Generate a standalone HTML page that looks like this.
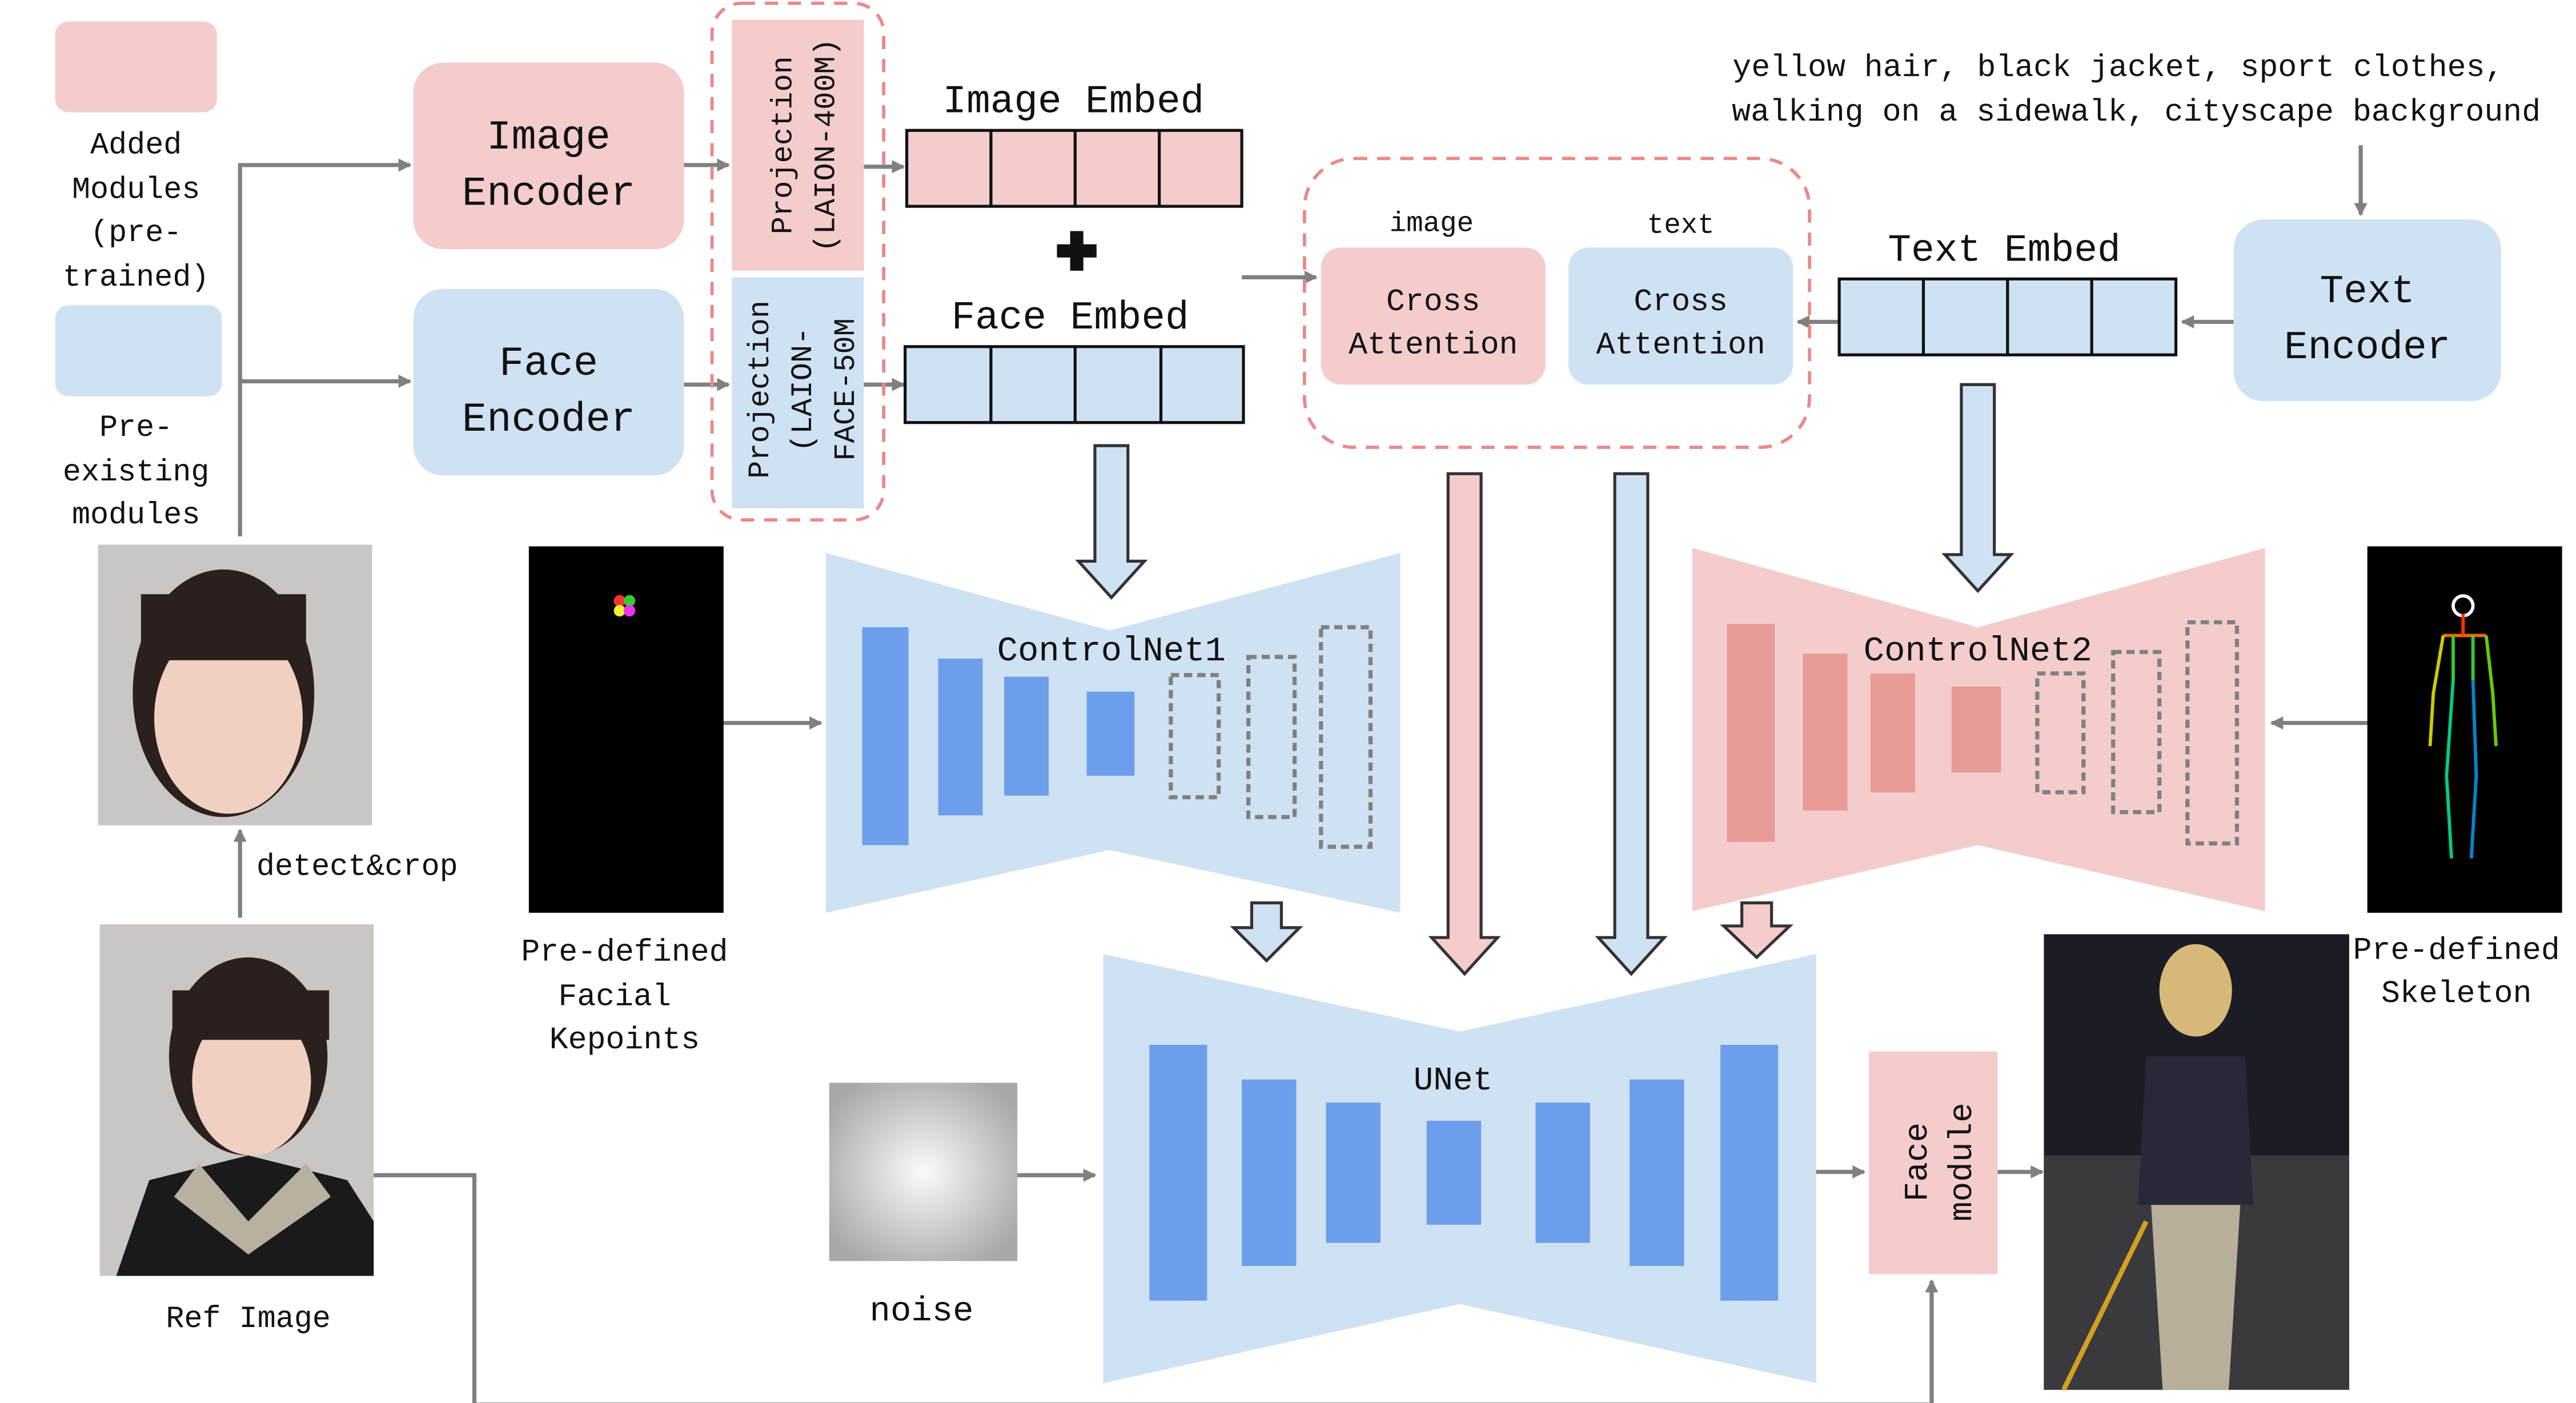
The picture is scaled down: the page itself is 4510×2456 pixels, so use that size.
<!DOCTYPE html>
<html><head><meta charset="utf-8"><style>
html,body{margin:0;padding:0;background:#fff;}
svg{display:block;}
text{font-family:"Liberation Mono","Noto Serif CJK SC",monospace;fill:#111;}
</style></head><body>
<svg width="4510" height="2456" viewBox="0 0 1560 850" xmlns="http://www.w3.org/2000/svg">
<defs>
<marker id="ah" markerWidth="8" markerHeight="8" refX="7" refY="4" orient="auto" markerUnits="userSpaceOnUse"><path d="M0,0 L8,4 L0,8 z" fill="#808080"/></marker>
<radialGradient id="ng" cx="0.5" cy="0.5" r="0.6"><stop offset="0" stop-color="#fafafa"/><stop offset="1" stop-color="#a8a8a8"/></radialGradient>
</defs>
<rect width="1560" height="850" fill="#fff"/>
<g stroke="#808080" stroke-width="2.5" fill="none">
<path d="M145,325 V100 H248" marker-end="url(#ah)"/>
<path d="M145,231 H248" marker-end="url(#ah)"/>
<path d="M414,100 H441" marker-end="url(#ah)"/>
<path d="M414,233 H441" marker-end="url(#ah)"/>
<path d="M523,101 H547" marker-end="url(#ah)"/>
<path d="M523,233 H547" marker-end="url(#ah)"/>
<path d="M752,168 H797" marker-end="url(#ah)"/>
<path d="M1353,195 H1322" marker-end="url(#ah)"/>
<path d="M1114,195 H1089" marker-end="url(#ah)"/>
<path d="M1430,88 V130" marker-end="url(#ah)"/>
<path d="M438,438 H497" marker-end="url(#ah)"/>
<path d="M1434,438 H1376" marker-end="url(#ah)"/>
<path d="M616,712 H663" marker-end="url(#ah)"/>
<path d="M1100,710 H1129" marker-end="url(#ah)"/>
<path d="M1210,710 H1237" marker-end="url(#ah)"/>
<path d="M145,556 V503" marker-end="url(#ah)"/>
<path d="M226,712 H287 V851 H1170 V776" marker-end="url(#ah)"/>
</g>
<rect x="33" y="13" width="98" height="55" rx="8" fill="#f4cccc"/>
<g font-size="18.5" text-anchor="middle">
<text x="82" y="93">Added</text><text x="82" y="120">Modules</text><text x="82" y="146">(pre-</text><text x="82" y="173">trained)</text>
<text x="82" y="264">Pre-</text><text x="82" y="291">existing</text><text x="82" y="317">modules</text>
</g>
<rect x="33" y="185" width="101" height="55" rx="8" fill="#cfe2f3"/>
<rect x="250" y="38" width="164" height="113" rx="18" fill="#f4cccc"/>
<text x="332" y="90" font-size="25" text-anchor="middle">Image</text>
<text x="332" y="124" font-size="25" text-anchor="middle">Encoder</text>
<rect x="250" y="175" width="164" height="113" rx="18" fill="#cfe2f3"/>
<text x="332" y="227" font-size="25" text-anchor="middle">Face</text>
<text x="332" y="261" font-size="25" text-anchor="middle">Encoder</text>
<rect x="431" y="2" width="104" height="313" rx="18" fill="none" stroke="#e88a8a" stroke-width="2" stroke-dasharray="8,6"/>
<rect x="443" y="12" width="80" height="152" fill="#f4cccc"/>
<rect x="443" y="168" width="80" height="140" fill="#cfe2f3"/>
<g font-size="18" text-anchor="middle">
<text transform="translate(479,88) rotate(-90)">Projection</text>
<text transform="translate(505,88) rotate(-90)">(LAION-400M)</text>
<text transform="translate(465,236) rotate(-90)">Projection</text>
<text transform="translate(491,236) rotate(-90)">(LAION-</text>
<text transform="translate(517,236) rotate(-90)">FACE-50M</text>
</g>
<text x="650" y="68" font-size="24" text-anchor="middle">Image Embed</text>
<rect x="549" y="79" width="203" height="46" fill="#f4cccc" stroke="#111" stroke-width="1.8"/>
<g stroke="#111" stroke-width="1.8"><path d="M600,79V125M651,79V125M702,79V125"/></g>
<path d="M648,140h8v8h8v8h-8v8h-8v-8h-8v-8h8z" fill="#111"/>
<text x="648" y="199" font-size="24" text-anchor="middle">Face Embed</text>
<rect x="548" y="210" width="205" height="46" fill="#cfe2f3" stroke="#111" stroke-width="1.8"/>
<g stroke="#111" stroke-width="1.8"><path d="M600,210V256M651,210V256M703,210V256"/></g>
<rect x="790" y="96" width="306" height="175" rx="30" fill="none" stroke="#e88a8a" stroke-width="2" stroke-dasharray="8,6"/>
<text x="867" y="140" font-size="17" text-anchor="middle">image</text>
<text x="1018" y="141" font-size="17" text-anchor="middle">text</text>
<rect x="800" y="150" width="136" height="83" rx="12" fill="#f4cccc"/>
<text x="868" y="188" font-size="19" text-anchor="middle">Cross</text>
<text x="868" y="214" font-size="19" text-anchor="middle">Attention</text>
<rect x="950" y="150" width="136" height="83" rx="12" fill="#cfe2f3"/>
<text x="1018" y="188" font-size="19" text-anchor="middle">Cross</text>
<text x="1018" y="214" font-size="19" text-anchor="middle">Attention</text>
<text x="1214" y="158" font-size="23.5" text-anchor="middle">Text Embed</text>
<rect x="1114" y="169" width="204" height="46" fill="#cfe2f3" stroke="#111" stroke-width="1.8"/>
<g stroke="#111" stroke-width="1.8"><path d="M1165,169V215M1216,169V215M1267,169V215"/></g>
<rect x="1353" y="133" width="162" height="110" rx="18" fill="#cfe2f3"/>
<text x="1434" y="183" font-size="24" text-anchor="middle">Text</text>
<text x="1434" y="217" font-size="24" text-anchor="middle">Encoder</text>
<text x="1283" y="46" font-size="19" text-anchor="middle">yellow hair, black jacket, sport clothes,</text>
<text x="1294" y="73" font-size="19" text-anchor="middle">walking on a sidewalk, cityscape background</text>
<path d="M500,335 L672,382 L848,335 V553 L672,515 L500,553 Z" fill="#cfe2f3"/>
<g fill="#6d9eeb">
<rect x="522" y="380" width="28" height="132"/><rect x="568" y="399" width="27" height="95"/>
<rect x="608" y="410" width="27" height="72"/><rect x="658" y="419" width="29" height="51"/>
</g>
<g fill="none" stroke="#808080" stroke-width="2.5" stroke-dasharray="5,3">
<rect x="709" y="409" width="29" height="74"/><rect x="756" y="398" width="28" height="97"/><rect x="800" y="380" width="30" height="133"/>
</g>
<text x="673" y="400" font-size="21" text-anchor="middle">ControlNet1</text>
<path d="M1025,332 L1198,380 L1372,332 V552 L1198,512 L1025,552 Z" fill="#f4cccc"/>
<g fill="#e89a96">
<rect x="1046" y="378" width="29" height="132"/><rect x="1092" y="396" width="27" height="95"/>
<rect x="1133" y="408" width="27" height="72"/><rect x="1182" y="416" width="30" height="52"/>
</g>
<g fill="none" stroke="#808080" stroke-width="2.5" stroke-dasharray="5,3">
<rect x="1234" y="408" width="28" height="72"/><rect x="1280" y="395" width="28" height="97"/><rect x="1325" y="377" width="30" height="134"/>
</g>
<text x="1198" y="400" font-size="21" text-anchor="middle">ControlNet2</text>
<g stroke="#333" stroke-width="1.8">
<path d="M663,270 H683 V340 H693 L673,362 L653,340 H663 Z" fill="#cfe2f3"/>
<path d="M1188,233 H1208 V336 H1218 L1198,358 L1178,336 H1188 Z" fill="#cfe2f3"/>
<path d="M758,547 H776 V562 H787 L767,582 L747,562 H758 Z" fill="#cfe2f3"/>
<path d="M1055,547 H1073 V561 H1084 L1064,580 L1044,561 H1055 Z" fill="#f4cccc"/>
<path d="M877,287 H897 V568 H907 L887,590 L867,568 H877 Z" fill="#f4cccc"/>
<path d="M978,287 H998 V568 H1008 L988,590 L968,568 H978 Z" fill="#cfe2f3"/>
</g>
<path d="M668,578 L884,625 L1100,578 V838 L884,790 L668,838 Z" fill="#cfe2f3"/>
<g fill="#6d9eeb">
<rect x="696" y="633" width="35" height="155"/><rect x="752" y="654" width="33" height="113"/>
<rect x="803" y="668" width="33" height="85"/><rect x="864" y="679" width="33" height="63"/>
<rect x="930" y="668" width="33" height="85"/><rect x="987" y="654" width="33" height="113"/>
<rect x="1042" y="633" width="35" height="155"/>
</g>
<text x="880" y="660" font-size="20" text-anchor="middle">UNet</text>
<rect x="502" y="656" width="114" height="108" fill="url(#ng)"/>
<text x="558" y="800" font-size="21" text-anchor="middle">noise</text>
<rect x="1132" y="637" width="78" height="135" fill="#f4cccc"/>
<text transform="translate(1167,704) rotate(-90)" font-size="20" text-anchor="middle">Face</text>
<text transform="translate(1194,704) rotate(-90)" font-size="20" text-anchor="middle">module</text>
<rect x="320" y="331" width="118" height="222" fill="#000"/>
<circle cx="375" cy="364" r="3.5" fill="#f33"/><circle cx="381" cy="364" r="3.5" fill="#3c3"/>
<circle cx="375" cy="370" r="3.5" fill="#ee3"/><circle cx="381" cy="370" r="3.5" fill="#e3e"/>
<text x="378" y="582" font-size="19" text-anchor="middle">Pre-defined</text>
<text x="372" y="609" font-size="19" text-anchor="middle">Facial</text>
<text x="378" y="635" font-size="19" text-anchor="middle">Kepoints</text>
<rect x="1434" y="331" width="118" height="222" fill="#000"/>
<g stroke-width="2" fill="none">
<circle cx="1492" cy="367" r="6" stroke="#fff"/>
<path d="M1480,385 H1506" stroke="#e60"/>
<path d="M1492,372 V385" stroke="#f30"/>
<path d="M1480,385 L1474,420 L1472,452" stroke="#cc0"/>
<path d="M1506,385 L1510,420 L1512,452" stroke="#6c0"/>
<path d="M1486,412 L1482,470 L1485,520" stroke="#0c8"/>
<path d="M1498,412 L1500,470 L1497,520" stroke="#08c"/>
<path d="M1486,385 L1486,412 M1498,385 L1498,412" stroke="#3c3"/>
</g>
<text x="1488" y="581" font-size="19" text-anchor="middle">Pre-defined</text>
<text x="1488" y="607" font-size="19" text-anchor="middle">Skeleton</text>
<rect x="59" y="330" width="166" height="170" fill="#c9c6c3"/>
<ellipse cx="135" cy="420" rx="55" ry="75" fill="#2a201e"/>
<ellipse cx="138" cy="435" rx="45" ry="58" fill="#f0d0c0"/>
<rect x="85" y="360" width="100" height="40" fill="#2a201e"/>
<text x="216" y="530" font-size="18.5" text-anchor="middle">detect&amp;crop</text>
<rect x="60" y="560" width="166" height="213" fill="#c9c6c3"/>
<ellipse cx="150" cy="640" rx="48" ry="60" fill="#2a201e"/>
<ellipse cx="152" cy="655" rx="36" ry="45" fill="#f0d0c0"/>
<rect x="104" y="600" width="95" height="30" fill="#2a201e"/>
<path d="M70,773 L90,715 L150,700 L210,715 L226,740 V773 Z" fill="#1a1a1a"/>
<path d="M120,705 L150,740 L185,705 L200,725 L150,760 L105,725 Z" fill="#b8b0a0"/>
<text x="150" y="804" font-size="18.5" text-anchor="middle">Ref Image</text>
<rect x="1238" y="566" width="185" height="276" fill="#1c1c24"/>
<rect x="1238" y="700" width="185" height="142" fill="#3a3a3e"/>
<path d="M1250,842 L1300,740" stroke="#d4a020" stroke-width="3"/>
<ellipse cx="1330" cy="600" rx="22" ry="28" fill="#d8b878"/>
<path d="M1300,640 L1360,640 L1365,730 L1295,730 Z" fill="#2a2838"/>
<path d="M1303,730 L1357,730 L1350,842 L1310,842 Z" fill="#b8b09a"/>
</svg>
</body></html>
